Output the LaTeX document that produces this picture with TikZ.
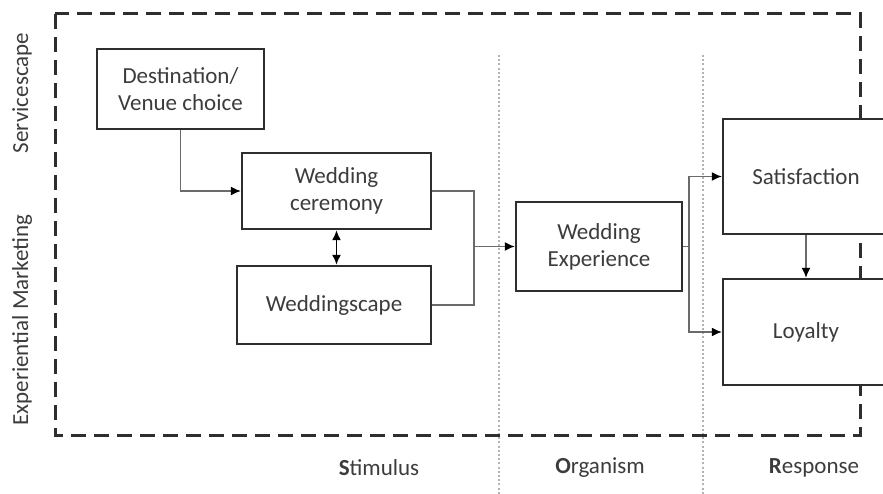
\documentclass[tikz,border=0pt]{standalone}
\usepackage{fontspec}
\setmainfont{Carlito}
\usetikzlibrary{arrows.meta, positioning}
\definecolor{boxgray}{HTML}{2E2E2E}
\definecolor{textgray}{HTML}{3C3C3C}
\definecolor{linkgray}{HTML}{6A6A6A}
\tikzset{%
	box/.style={draw=boxgray, line width=2.4pt, fill=white, text=textgray, align=center,%
		inner sep=0pt, font=\fontsize{23}{27}\selectfont},
	link/.style={draw=linkgray, line width=1.4pt},
	tip/.style={-{Latex[length=10pt, width=9pt, color=black]}},
	twotip/.style={{Latex[length=10pt, width=9pt]}-{Latex[length=10pt, width=9pt]},%
		draw=black, line width=1.6pt},
	frame/.style={draw=boxgray, line width=3pt, dash pattern=on 15pt off 8pt},
	divider/.style={draw=gray!60, line width=2pt, dash pattern=on 2pt off 2.2pt},
	side/.style={text=textgray, font=\fontsize{23}{27}\selectfont, rotate=90},
	stage/.style={text=textgray, font=\fontsize{23}{27}\selectfont}
}

\begin{document}
\begin{tikzpicture}[x=1pt, y=-1pt]
	\useasboundingbox (0,0) rectangle (883,494);
	\clip (0,0) rectangle (883,494);

	%stage borders
	\draw[divider] (499,55) -- (499,494);
	\draw[divider] (703,55) -- (703,494);
	\draw[frame] (55,14) rectangle (860,435);

	%stimulus
	\node[box, minimum width=167pt, minimum height=80pt] (venue) at (180.5,89) {Destination/\\Venue choice};
	\node[box, minimum width=189pt, minimum height=76pt] (ceremony) at (336.5,191) {Wedding\\ceremony};
	\node[box, minimum width=194pt, minimum height=78pt] (weddingscape) at (334,305) {Weddingscape};

	%organism
	\node[box, minimum width=166pt, minimum height=89pt] (experience) at (599,246.5) {Wedding\\Experience};

	%response
	\node[box, minimum width=166pt, minimum height=115pt] (satisfaction) at (806,176.5) {Satisfaction};
	\node[box, minimum width=166pt, minimum height=106pt] (loyalty) at (806,332) {Loyalty};

	\coordinate (merge) at (474,246.5);
	\coordinate (split) at (689,246.5);

	\draw[link, tip] (venue.south) |- (ceremony.west);
	\draw[twotip] (ceremony.south) -- (ceremony.south |- weddingscape.north);
	\draw[link] (ceremony.east) -| (merge) |- (weddingscape.east);
	\draw[link, tip] (merge) -- (experience.west);
	\draw[link] (experience.east) -- (split);
	\draw[link, tip] (split) |- (satisfaction.west);
	\draw[link, tip] (split) |- (loyalty.west);
	\draw[link, tip] (satisfaction) -- (loyalty);

	%labels
	\node[side] (servicescape) at (22,93) {Servicescape};
	\node[side] (marketing) at (22,320) {Experiential Marketing};
	\node[stage] (stimulus) at (379,468) {\textbf{S}timulus};
	\node[stage] (organism) at (600,468) {\textbf{O}rganism};
	\node[stage] (response) at (814,468) {\textbf{R}esponse};
\end{tikzpicture}
\end{document}
